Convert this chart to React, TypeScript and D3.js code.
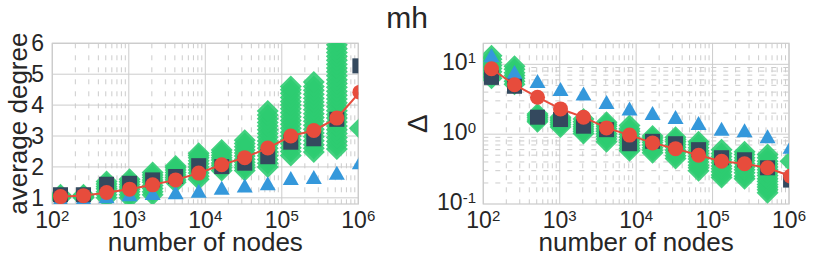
import React from 'react';
import * as d3 from 'd3';

// node counts (x), shared by both panels
const nodes = [128, 256, 512, 1024, 2048, 4096, 8192, 16384, 32768, 65536, 131072, 262144, 524288, 1048576];

// left panel: average degree
const degRed = [1.04, 1.07, 1.17, 1.28, 1.42, 1.58, 1.8, 2.07, 2.3, 2.61, 3.0, 3.18, 3.58, 4.42];
const degSquare = [1.1, 1.1, 1.44, 1.47, 1.58, 1.69, 2.04, 2.01, 2.12, 2.33, 2.8, 2.91, 3.54, 5.27];
const degTriangle = [0.95, 0.97, 1.02, 1.08, 1.12, 1.15, 1.2, 1.29, 1.37, 1.44, 1.61, 1.64, 1.78, 2.12];
const degGreen = [
  [1.0, 1.03, 1.06, 1.1],
  [1.0, 1.03, 1.06, 1.1],
  [1.0, 1.1, 1.2, 1.29, 1.37, 1.45, 1.53],
  [1.0, 1.1, 1.2, 1.28, 1.35, 1.43, 1.52, 1.6],
  [1.1, 1.2, 1.3, 1.4, 1.5, 1.58, 1.66, 1.74, 1.82],
  [1.5, 1.58, 1.66, 1.74, 1.82, 1.9, 1.97, 2.03],
  [1.6, 1.7, 1.8, 1.9, 2.0, 2.1, 2.2, 2.3, 2.37, 2.44],
  [1.88, 1.97, 2.05, 2.13, 2.22, 2.3, 2.38, 2.47, 2.55],
  [1.88, 1.97, 2.06, 2.15, 2.25, 2.35, 2.45, 2.55, 2.65, 2.76, 2.86],
  [2.0, 2.12, 2.24, 2.36, 2.48, 2.6, 2.72, 2.84, 2.96, 3.08, 3.2, 3.32, 3.44, 3.56, 3.68, 3.81],
  [2.37, 2.5, 2.62, 2.75, 2.88, 3.0, 3.12, 3.25, 3.38, 3.5, 3.62, 3.75, 3.88, 4.0, 4.12, 4.25, 4.38, 4.5, 4.6],
  [2.48, 2.6, 2.72, 2.85, 2.98, 3.1, 3.22, 3.35, 3.48, 3.6, 3.72, 3.85, 3.98, 4.1, 4.22, 4.35, 4.48, 4.6, 4.75],
  [2.58, 2.7, 2.82, 2.95, 3.08, 3.2, 3.32, 3.45, 3.58, 3.7, 3.82, 3.95, 4.08, 4.2, 4.32, 4.45, 4.58, 4.7,
    4.82, 4.95, 5.08, 5.2, 5.32, 5.45, 5.58, 5.7, 5.82, 5.95, 6.08, 6.2, 6.35],
  [3.25, 6.5, 7.0],
];

// right panel: delta
const dltRed = [8.65, 5.1, 3.38, 2.3, 1.75, 1.23, 0.97, 0.75, 0.62, 0.5, 0.41, 0.377, 0.33, 0.25];
const dltSquare = [6.5, 4.85, 1.75, 1.62, 1.3, 1.16, 0.73, 0.79, 0.73, 0.6, 0.46, 0.43, 0.33, 0.22];
const dltTriangle = [13, 7.5, 5.6, 4.3, 3.7, 2.8, 2.25, 1.95, 1.71, 1.4, 1.16, 1.1, 0.9, 0.64];
const dltGreen = [
  [6.3, 7.0, 7.8, 8.7, 9.6, 10.6, 11.8, 13.3],
  [5.2, 5.7, 6.3, 6.9, 7.6, 8.5, 9.4],
  [1.5, 1.6, 1.72, 1.83, 1.95],
  [1.27, 1.36, 1.46, 1.56, 1.65, 1.75],
  [1.02, 1.1, 1.19, 1.28, 1.38, 1.5, 1.65],
  [0.78, 0.85, 0.93, 1.01, 1.1, 1.2, 1.3, 1.39, 1.48],
  [0.58, 0.63, 0.69, 0.76, 0.83, 0.91, 1.0, 1.1, 1.2, 1.33],
  [0.54, 0.59, 0.64, 0.7, 0.76, 0.82, 0.88, 0.94],
  [0.45, 0.49, 0.54, 0.59, 0.65, 0.71, 0.78, 0.84, 0.9],
  [0.3, 0.33, 0.36, 0.4, 0.44, 0.48, 0.53, 0.58, 0.64, 0.71, 0.78],
  [0.24, 0.26, 0.29, 0.32, 0.35, 0.39, 0.43, 0.48, 0.53, 0.6],
  [0.23, 0.25, 0.28, 0.31, 0.34, 0.38, 0.42, 0.46, 0.51, 0.56],
  [0.145, 0.16, 0.175, 0.19, 0.21, 0.23, 0.255, 0.28, 0.31, 0.34, 0.375, 0.41, 0.46, 0.51],
  [0.41],
];

const xTickExps = [2, 3, 4, 5, 6];
const degTicks = [1, 2, 3, 4, 5, 6];
const dltTickExps = [-1, 0, 1];

const GREEN = '#2ecc71';
const DARK = '#34495e';
const BLUE = '#3498db';
const RED = '#e74c3c';
const GRID = '#cccccc';
const TEXT = '#262626';
const FONT = '"Liberation Sans", Arial, sans-serif';

const TOP = 43.3;
const BOTTOM = 204;

const minorOf = (decades: number[], last: number) => {
  const out: number[] = [];
  decades.forEach(d => {
    for (let k = 2; k <= 9; k++) if (d * k < last) out.push(d * k);
  });
  return out;
};

const Pow = ({ exp, x, y, anchor }: { exp: number; x: number; y: number; anchor: string }) => (
  <text x={x} y={y} textAnchor={anchor} fontSize={23} fill={TEXT} fontFamily={FONT}>
    10<tspan fontSize={15} dy={-7}>{exp}</tspan>
  </text>
);

interface PanelProps {
  id: string;
  left: number;
  right: number;
  y: any;
  logY: boolean;
  green: number[][];
  triangle: number[];
  square: number[];
  red: number[];
}

const Panel = ({ id, left, right, y, logY, green, triangle, square, red }: PanelProps) => {
  const x = d3.scaleLog().domain([100, 1e6]).range([left, right]);
  const xMinor = minorOf([100, 1000, 10000, 100000], 1e6);
  const yMinor = logY ? minorOf([0.1, 1, 10], 20) : [];
  const yMajor = logY ? [1, 10] : degTicks;
  const line = d3.line<number>().x((_, i) => x(nodes[i])).y(d => y(d));

  return (
    <g>
      <defs>
        <clipPath id={id}>
          <rect x={left} y={TOP} width={right - left} height={BOTTOM - TOP} />
        </clipPath>
      </defs>
      {/* minor grid */}
      {xMinor.map(v => (
        <line key={'xm' + v} x1={x(v)} x2={x(v)} y1={TOP} y2={BOTTOM} stroke={GRID} strokeDasharray="5,7" />
      ))}
      {yMinor.map(v => (
        <line key={'ym' + v} x1={left} x2={right} y1={y(v)} y2={y(v)} stroke={GRID} strokeDasharray="5,7" />
      ))}
      {/* major grid */}
      {xTickExps.map(e => (
        <line key={'xM' + e} x1={x(10 ** e)} x2={x(10 ** e)} y1={TOP} y2={BOTTOM} stroke={GRID} />
      ))}
      {yMajor.map(v => (
        <line key={'yM' + v} x1={left} x2={right} y1={y(v)} y2={y(v)} stroke={GRID} />
      ))}
      <rect x={left} y={TOP} width={right - left} height={BOTTOM - TOP} fill="none" stroke={GRID} strokeWidth={1.25} />

      <g clipPath={`url(#${id})`}>
        {green.map((vals, i) =>
          vals.map((v, j) => (
            <path
              key={`g${i}-${j}`}
              d="M0,-11L11,0L0,11L-11,0Z"
              transform={`translate(${x(nodes[i])},${y(v)})`}
              fill={GREEN}
              fillOpacity={0.9}
            />
          ))
        )}
        {triangle.map((v, i) => (
          <path key={'t' + i} d="M0,-8L8,6L-8,6Z" transform={`translate(${x(nodes[i])},${y(v)})`} fill={BLUE} />
        ))}
        {square.map((v, i) => (
          <rect key={'s' + i} x={x(nodes[i]) - 7.5} y={y(v) - 7.5} width={15} height={15} fill={DARK} />
        ))}
        <path d={line(red) || ''} fill="none" stroke={RED} strokeWidth={2} />
        {red.map((v, i) => (
          <circle key={'c' + i} cx={x(nodes[i])} cy={y(v)} r={7.5} fill={RED} />
        ))}
      </g>

      {xTickExps.map(e => (
        <Pow key={'xl' + e} exp={e} x={x(10 ** e)} y={228} anchor="middle" />
      ))}
      <text x={(left + right) / 2} y={251} textAnchor="middle" fontSize={26} fill={TEXT} fontFamily={FONT}>
        number of nodes
      </text>
    </g>
  );
};

export default function App() {
  const yDeg = d3.scaleLinear().domain([0.8, 6]).range([BOTTOM, TOP]);
  const yDlt = d3.scaleLog().domain([0.1, 20]).range([BOTTOM, TOP]);

  return (
    <div style={{ position: 'absolute', left: 0, top: 0 }}>
      <svg width={815} height={264} style={{ display: 'block', background: '#fff' }}>
        <text x={407} y={28} textAnchor="middle" fontSize={30} fill={TEXT} fontFamily={FONT}>
          mh
        </text>

        <Panel id="clipL" left={52.3} right={358.3} y={yDeg} logY={false}
          green={degGreen} triangle={degTriangle} square={degSquare} red={degRed} />
        {degTicks.map(v => (
          <text key={'dy' + v} x={44} y={yDeg(v) + 8} textAnchor="end" fontSize={23} fill={TEXT} fontFamily={FONT}>
            {v}
          </text>
        ))}
        <text transform={`translate(27,${(TOP + BOTTOM) / 2}) rotate(-90)`} textAnchor="middle" fontSize={26} fill={TEXT} fontFamily={FONT}>
          average degree
        </text>

        <Panel id="clipR" left={483.3} right={789} y={yDlt} logY={true}
          green={dltGreen} triangle={dltTriangle} square={dltSquare} red={dltRed} />
        {dltTickExps.map(e => (
          <Pow key={'ry' + e} exp={e} x={476} y={yDlt(10 ** e) + 6} anchor="end" />
        ))}
        <text transform={`translate(427,${(TOP + BOTTOM) / 2}) rotate(-90)`} textAnchor="middle" fontSize={28} fill={TEXT} fontFamily={FONT}>
          Δ
        </text>
      </svg>
    </div>
  );
}
